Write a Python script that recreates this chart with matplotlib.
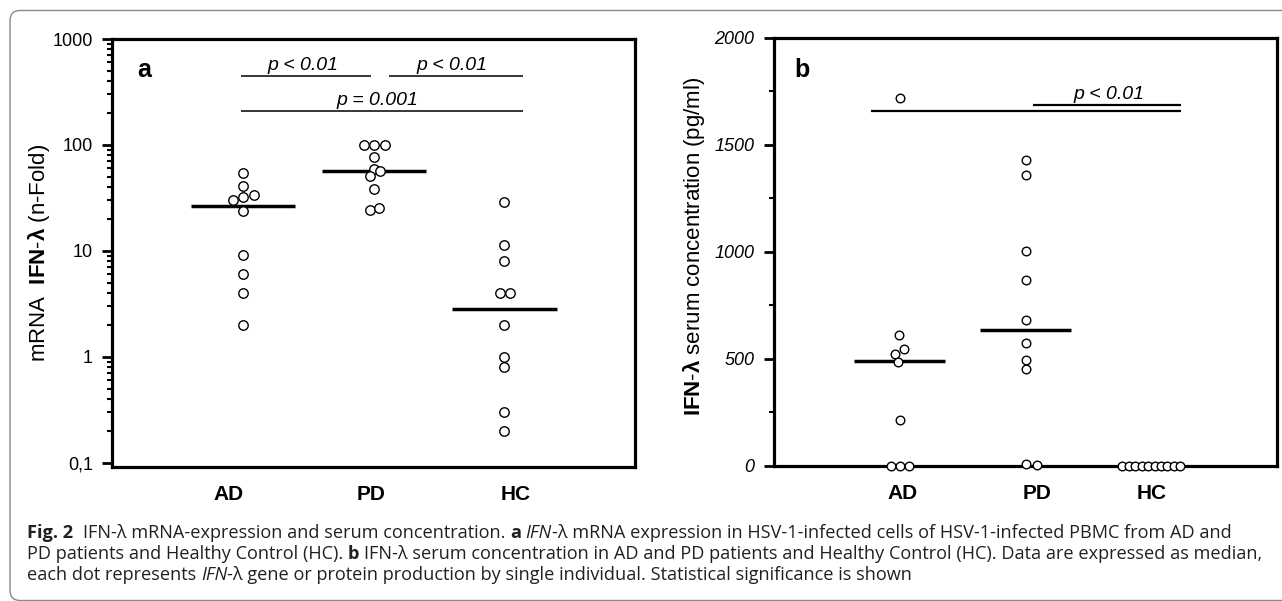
import matplotlib
matplotlib.use("Agg")
import matplotlib.pyplot as plt
from matplotlib.patches import FancyBboxPatch
from matplotlib.font_manager import FontProperties, findfont
from matplotlib.transforms import IdentityTransform
from matplotlib.ticker import FixedLocator, NullFormatter, LogLocator, MultipleLocator

# ---------------- data ----------------
groups = ["AD", "PD", "HC"]

# panel a: IFN-lambda mRNA (n-Fold), log scale
mrna_ad = [54, 41, 30, 32, 34, 24, 9.1, 6.1, 4.0, 2.0]
mrna_pd = [100, 100, 100, 77, 59, 57, 51, 38, 24.5, 25.5]
mrna_hc = [29, 11.3, 8.0, 4.0, 4.0, 2.0, 1.0, 0.8, 0.3, 0.2]
mrna_median = [26.6, 57, 2.8]
mrna_ticks = [0.1, 1, 10, 100, 1000]
mrna_ticklabels = ["0,1", "1", "10", "100", "1000"]

# panel b: IFN-lambda serum concentration (pg/ml)
serum_ad = [1717, 614, 545, 525, 486, 214, 0, 0, 0]
serum_pd = [1428, 1358, 1005, 868, 684, 575, 494, 455, 8, 5]
serum_hc = [0, 0, 0, 0, 0, 0, 0, 0, 0, 0]
serum_median = [491, 637]
serum_ticks = [0, 500, 1000, 1500, 2000]
serum_ticklabels = ["0", "500", "1000", "1500", "2000"]

p_labels_a = ["p < 0.01", "p < 0.01", "p = 0.001"]
p_labels_b = ["p < 0.01"]

# ---------------- layout (not data) ----------------
W, H, DPI = 1282, 601, 100
dx_mrna = [
    [0, 0, -0.077, 0, 0.085, 0, 0, 0, 0, 0],
    [-0.077, 0, 0.085, 0, 0, 0.046, -0.03, 0, -0.03, 0.04],
    [0, 0, 0, -0.036, 0.04, 0, 0, 0, 0, 0],
]
dx_serum = [
    [0, -0.005, 0.034, -0.037, -0.016, 0, -0.073, 0, 0.076],
    [0, 0, 0, 0, 0, 0, 0, 0, 0, 0.09],
    [-0.23, -0.179, -0.128, -0.077, -0.026, 0.026, 0.077, 0.128, 0.179, 0.23],
]
xlab_off_a = [-0.11, -0.02, 0.09]
xlab_off_b = [0.02, 0.09, 0.0]

AXFONT = "Liberation Sans"
plt.rcParams["font.family"] = [AXFONT, "DejaVu Sans"]
plt.rcParams["mathtext.fontset"] = "custom"
plt.rcParams["mathtext.rm"] = "Liberation Sans"
plt.rcParams["mathtext.bf"] = "Liberation Sans:bold"
plt.rcParams["mathtext.it"] = "Liberation Sans:italic"

fig = plt.figure(figsize=(W / DPI, H / DPI), dpi=DPI)


def px_axes(l, t, r, b):
    return fig.add_axes([l / W, 1 - b / H, (r - l) / W, (b - t) / H])


def style_axes(ax, xoffs):
    for s in ax.spines.values():
        s.set_linewidth(2.3)
        s.set_color("black")
    ax.tick_params(axis="y", which="major", direction="out", length=7, width=2,
                   labelsize=13, pad=7, left=True, right=False)
    ax.tick_params(axis="y", which="minor", direction="out", length=3.8, width=1.5)
    ax.tick_params(axis="x", length=0, pad=13)
    ax.set_xlim(0, 4)
    ax.set_xticks([i + 1 + o for i, o in enumerate(xoffs)])
    ax.set_xticklabels(groups, fontsize=15, fontweight="bold")


def dots(ax, vals_list, dx_list, ms):
    for i, (vals, dxs) in enumerate(zip(vals_list, dx_list)):
        xs = [i + 1 + d for d in dxs]
        ax.plot(xs, vals, "o", ms=ms, mfc="white", mec="black", mew=1.0,
                clip_on=False, zorder=6, linestyle="none")


# ---------------- panel a ----------------
axA = px_axes(112.5, 39, 635, 466.7)
axA.set_yscale("log")
axA.set_ylim(0.0916, 1000)
style_axes(axA, xlab_off_a)
axA.yaxis.set_major_locator(FixedLocator(mrna_ticks))
axA.set_yticklabels(mrna_ticklabels)
axA.yaxis.set_minor_locator(LogLocator(base=10, subs=[2, 3, 4, 5, 6, 7, 8, 9]))
axA.yaxis.set_minor_formatter(NullFormatter())
dots(axA, [mrna_ad, mrna_pd, mrna_hc], dx_mrna, 6.8)
for i, m in enumerate(mrna_median):
    axA.hlines(m, i + 1 - 0.4, i + 1 + 0.4, color="black", lw=2.5, zorder=5)
# significance
axA.hlines(445, 0.98, 1.98, color="black", lw=1.1)
axA.hlines(445, 2.12, 3.14, color="black", lw=1.1)
axA.hlines(211, 0.98, 3.14, color="black", lw=1.1)
axA.text(1.46, 507, p_labels_a[0], ha="center", va="baseline", fontsize=14, style="italic")
axA.text(2.60, 507, p_labels_a[1], ha="center", va="baseline", fontsize=14, style="italic")
axA.text(2.03, 237, p_labels_a[2], ha="center", va="baseline", fontsize=14, style="italic")
axA.text(0.19, 437, "a", ha="left", va="baseline", fontsize=18, fontweight="bold")

# ---------------- panel b ----------------
axB = px_axes(774, 37.7, 1277, 466)
axB.set_ylim(0, 2000)
style_axes(axB, xlab_off_b)
axB.yaxis.set_major_locator(FixedLocator(serum_ticks))
axB.set_yticklabels(serum_ticklabels)
for lbl in axB.get_yticklabels():
    lbl.set_fontstyle("italic")
axB.yaxis.set_minor_locator(MultipleLocator(250))
dots(axB, [serum_ad, serum_pd, serum_hc], dx_serum, 6.2)
for i, m in enumerate(serum_median):
    axB.hlines(m, i + 1 - 0.36, i + 1 + 0.36, color="black", lw=2.5, zorder=5)
axB.hlines(1657, 0.77, 3.24, color="black", lw=1.6)
axB.hlines(1684, 2.06, 3.24, color="black", lw=1.6)
axB.text(2.66, 1715, p_labels_b[0], ha="center", va="baseline", fontsize=14, style="italic")
axB.text(0.16, 1815, "b", ha="left", va="baseline", fontsize=18, fontweight="bold")

# ---------------- y labels ----------------
fig.text(39 / W, 1 - 253 / H, "mRNA  $\\mathbf{IFN}$-$\\mathbf{\u03bb}$ (n-Fold)",
         rotation=90, ha="center", va="center", fontsize=16)
fig.text(694 / W, 1 - 246 / H, "$\\mathbf{IFN}$-$\\mathbf{\u03bb}$ serum concentration (pg/ml)",
         rotation=90, ha="center", va="center", fontsize=16)

# ---------------- border ----------------
border = FancyBboxPatch((10, 0.5), 1300, 590, boxstyle="round,pad=0,rounding_size=10",
                        transform=IdentityTransform(), fill=False, ec="#8a8a8a", lw=1.0)
fig.add_artist(border)

# ---------------- caption ----------------
CAP_FONT = "DejaVu Sans"
for cand in ["Open Sans", "Noto Sans", "Lato"]:
    try:
        findfont(FontProperties(family=cand), fallback_to_default=False)
        CAP_FONT = cand
        break
    except Exception:
        pass

renderer = fig.canvas.get_renderer()
CAP_COLOR = "#231f20"


def advance(s, prop):
    if not s:
        return 0.0
    w1 = renderer.get_text_width_height_descent("|" + s + "|", prop, ismath=False)[0]
    w0 = renderer.get_text_width_height_descent("||", prop, ismath=False)[0]
    return w1 - w0


def mkprop(weight, style, size):
    return FontProperties(family=[CAP_FONT, "DejaVu Sans"], weight=weight, style=style, size=size)


def line_width(segs, size):
    return sum(advance(t, mkprop(w, s, size)) for t, w, s in segs)


def draw_line(x, y_img, segs, size):
    xcur = x
    for t, w, s in segs:
        prop = mkprop(w, s, size)
        stripped = t.lstrip(" ")
        lead = advance(t[: len(t) - len(stripped)], prop)
        body = stripped.rstrip(" ")
        if body:
            fig.text((xcur + lead) / W, 1 - y_img / H, body, fontproperties=prop,
                     ha="left", va="baseline", color=CAP_COLOR)
        xcur += advance(t, prop)


N, B, I = "normal", "bold", "italic"
cap1 = [("Fig. 2", B, N), ("  IFN-\u03bb mRNA-expression and serum concentration. ", N, N),
        ("a", B, N), (" ", N, N), ("IFN", N, I),
        ("-\u03bb mRNA expression in HSV-1-infected cells of HSV-1-infected PBMC from AD and", N, N)]
cap2 = [("PD patients and Healthy Control (HC). ", N, N), ("b", B, N),
        (" IFN-\u03bb serum concentration in AD and PD patients and Healthy Control (HC). "
         "Data are expressed as median,", N, N)]
cap3 = [("each dot represents ", N, N), ("IFN", N, I),
        ("-\u03bb gene or protein production by single individual. Statistical significance is shown", N, N)]

base_size = 11.0
cap_size = base_size * 1240.0 / line_width(cap2, base_size)
draw_line(27, 538, cap1, cap_size)
draw_line(27, 559, cap2, cap_size)
draw_line(27, 580, cap3, cap_size)

fig.savefig("out.png", dpi=DPI)
